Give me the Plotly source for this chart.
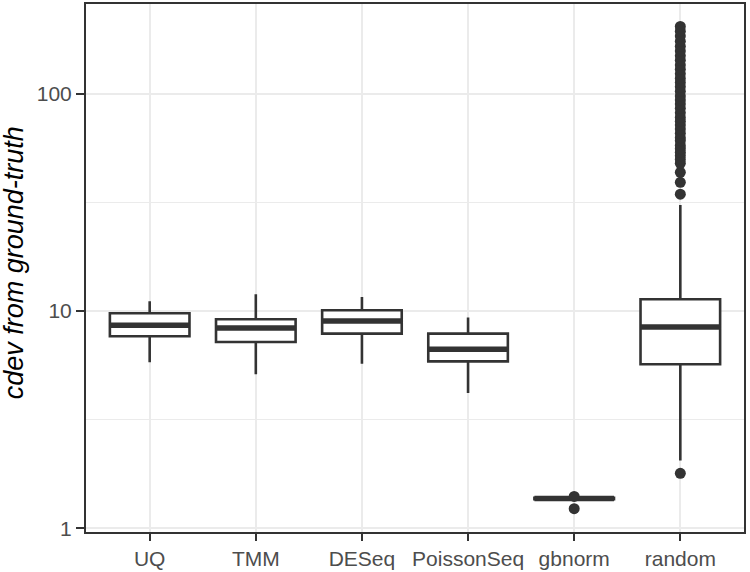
import plotly.graph_objects as go

categories = ["UQ", "TMM", "DESeq", "PoissonSeq", "gbnorm", "random"]
lower_whisker = [5.81, 5.12, 5.73, 4.20, 1.35, 2.05]
q1_values = [7.66, 7.21, 7.88, 5.87, 1.36, 5.69]
median_values = [8.61, 8.36, 9.01, 6.67, 1.37, 8.46]
q3_values = [9.78, 9.18, 10.09, 7.88, 1.38, 11.35]
upper_whisker = [11.11, 11.97, 11.63, 9.34, 1.39, 30.8]

gbnorm_outliers = [1.40, 1.23]
random_outliers = [1.79, 34.6, 39.2, 43.6, 48, 50, 52, 54, 56, 58, 61, 63, 66, 69,
                   72, 75, 78, 82, 86, 90, 94, 98, 103, 108, 113, 118, 124, 130,
                   136, 143, 150, 158, 166, 175, 185, 195, 205]
outliers = {"gbnorm": gbnorm_outliers, "random": random_outliers}

y_tick_values = [1, 10, 100]
y_tick_labels = ["1", "10", "100"]
y_minor_values = [10 ** 0.5, 10 ** 1.5]
y_title = "cdev from ground-truth"

DARK = "#333333"
BOX_W = 0.75

fig = go.Figure()
positions = list(range(1, len(categories) + 1))

for i, cat in enumerate(categories):
    x = positions[i]
    fig.add_trace(go.Box(
        x=[x], q1=[q1_values[i]], median=[median_values[i]], q3=[q3_values[i]],
        lowerfence=[lower_whisker[i]], upperfence=[upper_whisker[i]],
        width=BOX_W, whiskerwidth=0, boxpoints=False,
        fillcolor="white", line=dict(color=DARK, width=2.6),
        showlegend=False, hoverinfo="skip",
    ))

for i, cat in enumerate(categories):
    x = positions[i]
    fig.add_trace(go.Scatter(
        x=[x - BOX_W / 2, x + BOX_W / 2], y=[median_values[i]] * 2,
        mode="lines", line=dict(color=DARK, width=5.5),
        showlegend=False, hoverinfo="skip",
    ))
    if cat in outliers:
        fig.add_trace(go.Scatter(
            x=[x] * len(outliers[cat]), y=outliers[cat], mode="markers",
            marker=dict(color=DARK, size=11, line=dict(width=0)),
            showlegend=False, hoverinfo="skip",
        ))

fig.update_layout(
    width=750, height=572,
    margin=dict(l=86, r=6, t=4, b=40),
    paper_bgcolor="white", plot_bgcolor="white",
    font=dict(family="Liberation Sans, Arial, Helvetica, sans-serif", color="#4D4D4D", size=21),
    boxmode="overlay",
    annotations=[dict(
        text="<i>" + y_title + "</i>", textangle=-90,
        xref="paper", yref="paper", x=-0.11, y=0.51,
        xanchor="center", yanchor="middle", showarrow=False,
        font=dict(size=27, color="black"),
    )],
)
fig.update_xaxes(
    range=[0.4, 6.6], tickvals=positions, ticktext=categories,
    showgrid=True, gridcolor="#EBEBEB", gridwidth=1.8, zeroline=False,
    showline=True, mirror=True, linecolor=DARK, linewidth=2,
    ticks="outside", ticklen=7, tickwidth=2, tickcolor=DARK,
    tickfont=dict(size=21, color="#4D4D4D"), automargin=False,
)
fig.update_yaxes(
    type="log", range=[-0.0175, 2.415],
    tickvals=y_tick_values, ticktext=y_tick_labels,
    showgrid=True, gridcolor="#EBEBEB", gridwidth=1.8, zeroline=False,
    minor=dict(tickvals=y_minor_values, showgrid=True, gridcolor="#EBEBEB", gridwidth=1, ticks=""),
    showline=True, mirror=True, linecolor=DARK, linewidth=2,
    ticks="outside", ticklen=8, tickwidth=2, tickcolor=DARK,
    tickfont=dict(size=21, color="#4D4D4D"), automargin=False,
)

fig.write_html("out.html", config={"displayModeBar": False},
               post_script="document.body.style.margin='0';")
